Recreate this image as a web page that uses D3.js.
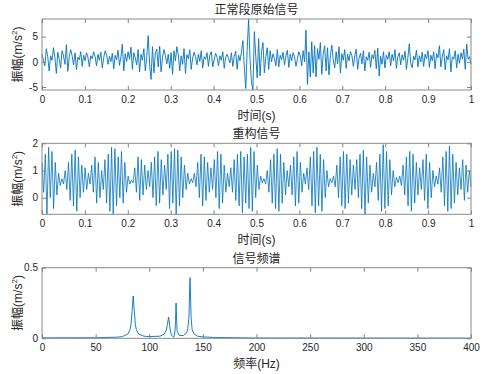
<!DOCTYPE html>
<html>
<head>
<meta charset="utf-8">
<script src="https://cdn.jsdelivr.net/npm/d3@7"></script>
<style>
  body { margin: 0; background: #fff; }
  text { font-family: "Liberation Sans", Arial, "Noto Sans CJK SC", sans-serif; fill: #262626; }
</style>
</head>
<body>
<div id="wrapper"></div>
<script>
// raw signal, 300 samples over 1 s
const rawSignal = [
  1.5, 0.4, -0.8, 2.6, 1.0, -1.8, 1.2, 0.3, 2.8, 0.9, -2.3, 1.9, 0.5, -1.2, 2.2, 1.1, -0.5, 3.4, -1.9, 1.0, 2.4, 1.2, -0.6, 1.8, -1.5, 0.9, 0.4, 2.0, -0.9, 1.3,
  0.2, 1.8, 0.9, -1.0, 1.2, 0.6, 2.0, 1.1, -0.8, 1.5, 0.3, 1.9, -1.2, 0.8, 2.2, 1.4, -0.5, 1.1, 0.0, 1.7, -1.4, 1.3, 0.4, 2.3, -0.7, 1.0, 3.5, -1.8, 1.6, 0.1,
  2.0, 0.5, 2.9, -1.5, 1.8, 0.8, -0.6, 2.4, -2.0, 1.5, 0.3, 2.6, -1.8, 1.0, 5.2, -0.5, -3.5, 3.0, -2.2, 1.8, 2.5, -1.0, 3.1, -2.0, 0.9, 2.4, 1.2, -0.4, 1.5, -1.3,
  1.8, -2.5, 2.2, 0.2, 3.0, 1.4, -1.8, 1.2, -0.5, 2.6, -2.3, 1.4, 0.6, 2.4, -1.5, 0.8, 1.9, 1.0, -0.6, 1.5, 0.1, 2.2, -1.2, 1.0, 0.5, 1.8, -0.9, 1.3, 2.0, -1.0,
  0.4, 1.7, 0.9, -0.8, 1.2, 0.3, 2.0, -1.3, 0.9, 1.5, 0.6, -0.2, 1.8, -0.9, 1.1, 2.1, -1.5, 1.3, 0.2, 1.9, 4.2, -1.0, -5.3, 2.5, 8.5, 0.5, -4.0, -5.6, 6.0, 1.0,
  -3.2, 4.6, -2.8, 2.0, 3.8, -2.2, 1.0, 2.8, -1.5, 2.2, 0.0, 1.6, 0.7, -0.8, 2.4, -1.0, 1.3, 0.4, 1.9, -0.6, 1.2, 2.3, -1.1, 1.5, 0.2, 1.8, 1.0, -0.9, 0.5, 2.0,
  1.2, -0.8, 2.2, 0.0, 6.3, -4.5, 2.0, -3.0, 4.0, -2.2, 3.2, -3.0, 2.6, 0.5, 3.8, -2.5, 1.5, 3.2, -1.8, 2.8, -2.6, 1.2, 3.3, 0.4, -1.2, 2.0, -0.4, 3.0, -2.2, 1.6,
  0.3, 2.4, -1.3, 1.5, 0.2, 2.0, 1.2, -0.9, 1.2, 2.5, -1.5, 0.8, 1.7, -0.4, 2.2, -1.8, 1.0, 0.3, 1.9, -1.1, 1.4, 0.6, 2.3, -1.4, 2.7, -2.8, 1.1, -0.5, 2.0, -1.2,
  1.3, 0.5, 2.0, -0.8, 1.5, 0.2, 2.4, -1.3, 1.0, 1.8, -0.6, 1.4, 0.3, 2.1, -1.5, 0.8, 3.6, -0.3, -1.2, 1.1, 0.4, 2.3, -1.0, 1.2, 0.0, 1.9, -0.9, 1.5, 0.6, 2.2,
  -1.1, 1.3, 0.2, 2.0, -1.4, 1.6, 0.8, 3.2, -1.0, 1.1, 2.4, -1.6, 1.2, 0.4, 2.6, -2.0, 1.0, 0.5, 2.2, -1.2, 1.5, -0.3, 1.8, 0.6, 2.5, -1.5, 3.5, 0.5, 1.0, -0.5
]

// reconstructed signal, 260 samples over 1 s
const reconSignal = [
  1.3, 0.2, 1.6, -0.6, 1.85, 0.0, 1.7, -0.4, 1.3, 0.1, 0.9, 0.45, 0.7, 0.5, 1.0, 0.3, 1.3, -0.1, 1.6, -0.3, 1.75, -0.5, 1.5, 0.0, 1.2, 0.2,
  1.1, 0.3, 0.9, 0.5, 1.2, 0.2, 1.5, -0.2, 1.3, 0.0, 1.0, 0.3, 1.4, -0.2, 1.6, -0.5, 1.85, -0.6, 1.8, -0.3, 1.5, 0.0, 1.7, -0.2, 1.3, 0.2,
  0.8, 0.5, 0.65, 0.55, 1.1, 0.2, 1.5, -0.1, 1.4, 0.1, 1.2, 0.3, 1.0, 0.4, 1.3, 0.0, 1.5, -0.3, 1.7, -0.2, 1.4, 0.1, 1.2, 0.3, 1.6, -0.4,
  1.7, -0.2, 1.8, -0.6, 1.75, -0.3, 1.5, 0.0, 1.2, 0.3, 0.9, 0.5, 0.7, 0.55, 0.9, 0.4, 1.3, 0.0, 1.6, -0.3, 1.5, -0.1, 1.3, 0.2, 1.1, 0.3,
  1.4, 0.0, 1.7, -0.4, 1.6, -0.2, 1.2, 0.2, 0.9, 0.4, 1.1, 0.2, 1.4, -0.1, 1.6, -0.3, 1.7, -0.55, 1.5, -0.2, 1.6, -0.4, 1.85, -0.5, 1.7, 0.0,
  1.2, 0.3, 0.8, 0.55, 0.7, 0.5, 1.0, 0.2, 1.4, -0.2, 1.6, -0.4, 1.8, -0.5, 1.6, -0.2, 1.3, 0.1, 1.0, 0.4, 1.2, 0.1, 1.5, -0.3, 1.7, -0.2,
  1.3, 0.2, 0.9, 0.5, 1.1, 0.3, 1.5, -0.3, 1.7, -0.55, 1.85, -0.3, 1.6, -0.5, 1.4, 0.0, 1.0, 0.4, 0.7, 0.55, 0.8, 0.4, 1.2, 0.0, 1.5, -0.3,
  1.7, -0.4, 1.6, -0.2, 1.4, 0.1, 1.2, 0.3, 1.4, 0.0, 1.6, -0.4, 1.75, -0.6, 1.5, -0.2, 1.2, 0.2, 0.9, 0.4, 1.3, -0.1, 1.6, -0.5, 1.95, -0.4,
  1.7, -0.3, 1.4, 0.1, 1.0, 0.4, 0.75, 0.55, 0.8, 0.45, 1.2, 0.1, 1.5, -0.3, 1.7, -0.5, 1.6, -0.2, 1.3, 0.1, 1.1, 0.3, 1.4, -0.1, 1.6, -0.4,
  1.3, 0.0, 1.0, 0.4, 0.8, 0.5, 1.1, 0.2, 1.5, -0.3, 1.7, -0.5, 1.9, -0.4, 1.6, -0.2, 1.3, 0.1, 1.1, 0.3, 1.4, -0.1, 1.2, 0.2, 1.0, 0.4
]

// spectrum
const specFreq = [0, 50, 70, 75, 80, 82, 83, 84, 85, 86, 87, 88, 90, 95, 100, 110, 114, 116, 117, 118, 118.5, 119, 120, 121, 122, 123, 124, 124.5, 125, 125.5, 126, 128, 132, 135, 136, 137, 137.5, 138, 138.5, 139, 140, 142, 145, 150, 160, 200, 400]
const specAmp  = [0.003, 0.004, 0.008, 0.012, 0.03, 0.06, 0.1, 0.19, 0.30, 0.2, 0.1, 0.06, 0.03, 0.015, 0.012, 0.015, 0.03, 0.06, 0.1, 0.15, 0.13, 0.09, 0.04, 0.02, 0.012, 0.008, 0.05, 0.12, 0.25, 0.12, 0.05, 0.02, 0.02, 0.04, 0.07, 0.15, 0.3, 0.43, 0.3, 0.15, 0.06, 0.03, 0.015, 0.01, 0.006, 0.002, 0.001]

const timeTicks = [0, 0.1, 0.2, 0.3, 0.4, 0.5, 0.6, 0.7, 0.8, 0.9, 1]
const freqTicks = [0, 50, 100, 150, 200, 250, 300, 350, 400]
const rawTicks = [-5, 0, 5]
const reconTicks = [0, 1, 2]
const specTicks = [0, 0.5]

function drawChart() {
  const dimensions = {
    width: 483,
    height: 374,
    left: 42,
    right: 471,
  }

  const wrapper = d3.select("#wrapper")
    .append("svg")
    .attr("width", dimensions.width)
    .attr("height", dimensions.height)

  const panels = [
    { points: rawSignal.map((v, i) => [i / (rawSignal.length - 1), v]),
      xDomain: [0, 1], yDomain: [-5.6, 8.5], xTicks: timeTicks, yTicks: rawTicks,
      top: 19, bottom: 90, title: "正常段原始信号", xLabel: "时间(s)", lw: 0.9 },
    { points: reconSignal.map((v, i) => [i / (reconSignal.length - 1), v]),
      xDomain: [0, 1], yDomain: [-0.61, 2], xTicks: timeTicks, yTicks: reconTicks,
      top: 143.3, bottom: 214.3, title: "重构信号", xLabel: "时间(s)", lw: 0.8 },
    { points: specFreq.map((f, i) => [f, specAmp[i]]),
      xDomain: [0, 400], yDomain: [0, 0.5], xTicks: freqTicks, yTicks: specTicks,
      top: 267.7, bottom: 338.3, title: "信号频谱", xLabel: "频率(Hz)", lw: 0.9 },
  ]

  panels.forEach((p) => {
    const xScale = d3.scaleLinear().domain(p.xDomain).range([dimensions.left, dimensions.right])
    const yScale = d3.scaleLinear().domain(p.yDomain).range([p.bottom, p.top])
    const g = wrapper.append("g")

    // line
    g.append("path")
      .datum(p.points)
      .attr("fill", "none")
      .attr("stroke", "#0072BD")
      .attr("stroke-width", p.lw)
      .attr("stroke-linejoin", "round")
      .attr("d", d3.line().x((d) => xScale(d[0])).y((d) => yScale(d[1])))

    // axes, ticks inside like matlab
    const fmt = (d) => d
    g.append("g")
      .attr("transform", `translate(0,${p.bottom})`)
      .call(d3.axisBottom(xScale).tickValues(p.xTicks).tickFormat(fmt).tickSizeInner(-4).tickSizeOuter(0).tickPadding(6))
    g.append("g")
      .attr("transform", `translate(0,${p.top})`)
      .call(d3.axisTop(xScale).tickValues(p.xTicks).tickFormat("").tickSizeInner(-4).tickSizeOuter(0))
    g.append("g")
      .attr("transform", `translate(${dimensions.left},0)`)
      .call(d3.axisLeft(yScale).tickValues(p.yTicks).tickFormat(fmt).tickSizeInner(-4).tickSizeOuter(0).tickPadding(4))
    g.append("g")
      .attr("transform", `translate(${dimensions.right},0)`)
      .call(d3.axisRight(yScale).tickValues(p.yTicks).tickFormat("").tickSizeInner(-4).tickSizeOuter(0))

    g.selectAll(".domain").remove()
    g.selectAll(".tick line").attr("stroke", "#808080")
    g.selectAll(".tick text").attr("font-size", 10).attr("fill", "#262626")
      .style("font-family", '"Liberation Sans", Arial, sans-serif')

    g.append("rect")
      .attr("x", dimensions.left)
      .attr("y", p.top)
      .attr("width", dimensions.right - dimensions.left)
      .attr("height", p.bottom - p.top)
      .attr("fill", "none")
      .attr("stroke", "#8a8a8a")
      .attr("stroke-width", 1)

    // labels
    g.append("text")
      .attr("x", (dimensions.left + dimensions.right) / 2)
      .attr("y", p.top - 5)
      .attr("text-anchor", "middle")
      .attr("font-size", 12)
      .attr("fill", "#333")
      .text(p.title)

    g.append("text")
      .attr("x", (dimensions.left + dimensions.right) / 2)
      .attr("y", p.bottom + 30)
      .attr("text-anchor", "middle")
      .attr("font-size", 12)
      .attr("fill", "#404040")
      .text(p.xLabel)

    const yl = g.append("text")
      .attr("transform", `translate(22,${(p.top + p.bottom) / 2}) rotate(-90)`)
      .attr("text-anchor", "middle")
      .attr("font-size", 12)
      .attr("fill", "#404040")
    yl.append("tspan").text("振幅(m/s")
    yl.append("tspan").attr("font-size", 8).attr("dy", -5).text("2")
    yl.append("tspan").attr("dy", 5).text(")")
  })
}

drawChart()
</script>
</body>
</html>
